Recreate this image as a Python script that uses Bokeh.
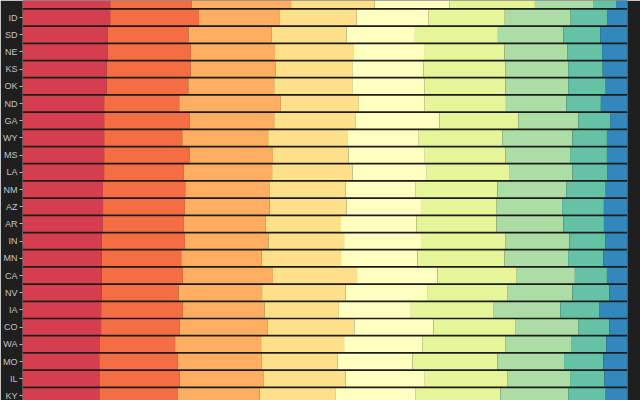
from bokeh.plotting import figure
from bokeh.models import ColumnDataSource, Range1d, FixedTicker
from bokeh.embed import file_html
from bokeh.resources import INLINE

states = ["AK", "ID", "SD", "NE", "KS", "OK", "ND", "GA", "WY", "MS", "LA", "NM",
          "AZ", "AR", "IN", "MN", "CA", "NV", "IA", "CO", "WA", "MO", "IL", "KY"]

# share of each of nine bands per state (percent), top row first
s1 = [14.5, 14.5, 14.1, 14.1, 13.9, 13.9, 13.5, 13.5, 13.5, 13.5, 13.5, 13.3,
      13.3, 13.3, 13.1, 13.1, 13.1, 13.1, 13.0, 13.0, 12.7, 12.7, 12.7, 12.7]
s2 = [13.5, 14.7, 13.3, 13.7, 13.9, 13.5, 12.4, 14.1, 12.9, 14.1, 13.2, 13.6,
      13.5, 13.4, 13.7, 13.1, 13.4, 12.7, 13.5, 13.0, 12.5, 13.0, 13.3, 12.9]
s3 = [16.4, 13.4, 13.7, 13.9, 14.0, 14.2, 16.8, 14.0, 14.2, 13.8, 14.6, 14.0,
      14.0, 13.5, 13.8, 13.3, 14.9, 13.8, 13.5, 14.6, 14.2, 13.9, 13.9, 13.6]
s4 = [13.8, 12.7, 12.4, 12.9, 12.7, 12.9, 12.9, 13.5, 13.2, 12.5, 13.3, 12.5,
      12.7, 12.5, 12.5, 13.1, 13.9, 13.8, 12.3, 14.3, 13.7, 12.5, 13.5, 12.6]
s5 = [12.4, 11.9, 11.3, 11.7, 11.8, 11.9, 10.8, 13.8, 11.7, 12.6, 12.3, 11.6,
      12.3, 12.5, 12.7, 12.6, 13.3, 13.6, 11.9, 13.1, 12.9, 12.4, 13.1, 13.1]
s6 = [14.1, 12.6, 13.7, 13.3, 13.5, 13.4, 13.5, 13.1, 13.8, 13.3, 13.6, 13.5,
      12.5, 13.2, 13.9, 14.4, 13.1, 13.1, 13.7, 13.5, 13.7, 14.1, 13.7, 14.1]
s7 = [9.6, 10.9, 10.8, 10.4, 10.4, 10.4, 10.0, 9.9, 11.6, 10.7, 10.5, 11.4,
      10.8, 11.1, 10.6, 10.5, 9.6, 10.8, 11.0, 10.5, 11.0, 11.0, 10.3, 11.2]
s8 = [3.8, 6.1, 6.1, 5.7, 5.7, 6.2, 5.7, 5.3, 5.7, 6.1, 5.8, 6.5,
      6.9, 6.7, 5.9, 5.8, 5.3, 6.1, 6.4, 5.1, 5.7, 6.5, 5.7, 6.2]
s9 = [1.9, 3.3, 4.5, 4.2, 4.1, 3.6, 4.4, 2.8, 3.4, 3.4, 3.3, 3.6,
      3.9, 3.9, 3.7, 4.0, 3.4, 3.0, 4.7, 3.0, 3.5, 4.0, 3.8, 3.6]

bands = ["b1", "b2", "b3", "b4", "b5", "b6", "b7", "b8", "b9"]
colors = ["#d53e4f", "#f46d43", "#fdae61", "#fee08b", "#ffffbf",
          "#e6f598", "#abdda4", "#66c2a5", "#3288bd"]

series = [s1, s2, s3, s4, s5, s6, s7, s8, s9]
n = len(states)
ypos = [n - 1 - i for i in range(n)]
totals = [sum(r) for r in zip(*series)]
data = {"y": ypos}
for b, s in zip(bands, series):
    data[b] = [v / t for v, t in zip(s, totals)]
source = ColumnDataSource(data)

p = figure(width=640, height=400, output_backend="svg", toolbar_location=None,
           x_range=Range1d(0, 1), y_range=Range1d(-0.267, 22.99),
           min_border_left=20, min_border_right=13, min_border_top=0,
           min_border_bottom=0)

p.hbar_stack(bands, y="y", height=0.9, color=colors, source=source,
             line_color=None)

p.background_fill_color = "#1c1c1c"
p.border_fill_color = "#1f1f1f"
p.outline_line_color = None
p.xaxis.visible = False
p.xgrid.visible = False
p.ygrid.visible = False

ya = p.yaxis[0]
ya.ticker = FixedTicker(ticks=ypos)
ya.major_label_overrides = {y: s for y, s in zip(ypos, states)}
ya.axis_line_color = None
ya.minor_tick_line_color = None
ya.major_tick_line_color = "#bbbbbb"
ya.major_tick_in = 0
ya.major_tick_out = 3
ya.major_label_standoff = 2
ya.major_label_text_font_size = "9px"
ya.major_label_text_color = "#c4c4c4"
ya.major_label_text_font = "Liberation Sans"

open("out.html", "w").write(file_html(p, INLINE))
